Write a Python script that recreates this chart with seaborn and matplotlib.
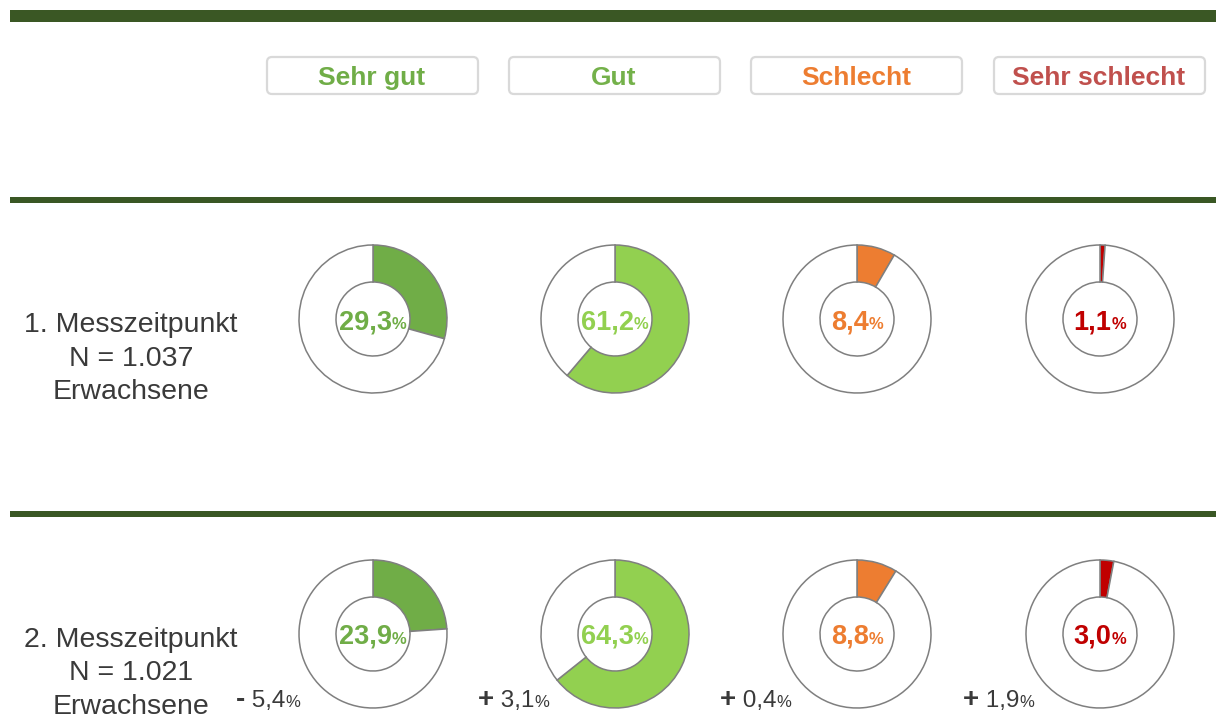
import matplotlib
matplotlib.use("Agg")
import matplotlib.pyplot as plt
from matplotlib.patches import FancyBboxPatch
import seaborn as sns

categories = ["Sehr gut", "Gut", "Schlecht", "Sehr schlecht"]
share_t1 = [29.3, 61.2, 8.4, 1.1]
share_t2 = [23.9, 64.3, 8.8, 3.0]
change = [-5.4, 3.1, 0.4, 1.9]
row_titles = ["1. Messzeitpunkt", "2. Messzeitpunkt"]
sample_n = ["1.037", "1.021"]

fill_colors = ["#70ad47", "#92d050", "#ed7d31", "#c00000"]
head_colors = ["#70ad47", "#74b14a", "#ed7d31", "#c0504d"]
bar_green = "#3a5724"
text_gray = "#3a3a3a"

W, H = 1216, 718
col_x = [373, 615, 857, 1100]
row_y = [319, 634]          # pixel rows, measured from top
R = 74

sns.set_theme(style="white")
plt.rcParams["font.family"] = ["Liberation Sans", "DejaVu Sans"]

fig = plt.figure(figsize=(W / 100, H / 100), dpi=100)
ax = fig.add_axes([0, 0, 1, 1])
renderer = fig.canvas.get_renderer()


def py(y):
    # pixel-from-top -> data y
    return H - y


def de(v):
    return f"{v:.1f}".replace(".", ",")


def pieces(x, y, parts, ha="center"):
    texts = [ax.text(0, y, s, va="baseline", ha="left", **kw) for s, kw in parts]
    widths = [t.get_window_extent(renderer).width for t in texts]
    start = x - sum(widths) / 2 if ha == "center" else x
    for t, w in zip(texts, widths):
        t.set_x(start)
        start += w


# green separator bars
for top, bottom in [(10, 22), (197, 203), (511, 517)]:
    ax.axhspan(py(bottom), py(top), xmin=10 / W, xmax=1, color=bar_green, lw=0)

# header boxes
for cx, name, col in zip(col_x, categories, head_colors):
    box = FancyBboxPatch((cx - 106, py(94)), 211, 37,
                         boxstyle="round,pad=0,rounding_size=5",
                         fc="white", ec="#d9d9d9", lw=1.6)
    ax.add_patch(box)
    ax.text(cx - 1, py(85), name, ha="center", va="baseline", fontsize=19,
            fontweight="bold", color=col)

# donuts
for ry, shares in zip(row_y, [share_t1, share_t2]):
    for cx, v, col in zip(col_x, shares, fill_colors):
        ax.pie([v, 100 - v], colors=[col, "white"], startangle=90,
               counterclock=False, radius=R, center=(cx, py(ry)),
               wedgeprops=dict(width=R * 0.5, edgecolor="#7f7f7f", linewidth=1.1))
        pieces(cx, py(ry + 10), [(de(v), dict(fontsize=19.5, fontweight="bold", color=col)),
                                 ("%", dict(fontsize=12, fontweight="bold", color=col))])

# row labels
for ry, title, n in zip(row_y, row_titles, sample_n):
    for k, line in enumerate([title, f"N = {n}", "Erwachsene"]):
        ax.text(131, py(ry + 13 + k * 33.5), line, ha="center", va="baseline",
                fontsize=20.5, color=text_gray)

# change labels below second row
for cx, d in zip(col_x, change):
    sign = "-" if d < 0 else "+"
    pieces(cx - 137, py(707),
           [(sign, dict(fontsize=20, fontweight="bold", color=text_gray)),
            (" " + de(abs(d)), dict(fontsize=17.5, color=text_gray)),
            ("%", dict(fontsize=12, color=text_gray))], ha="left")

ax.set_xlim(0, W)
ax.set_ylim(0, H)
ax.set_aspect("equal")
ax.axis("off")

fig.savefig("out.png", dpi=100)
